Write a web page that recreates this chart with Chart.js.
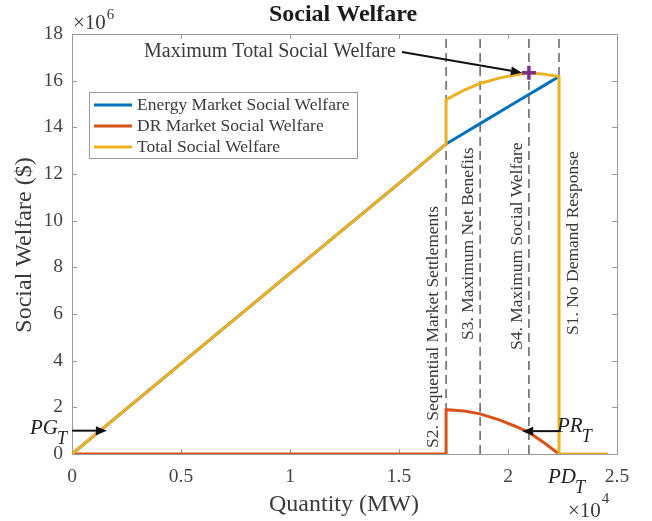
<!DOCTYPE html>
<html>
<head>
<meta charset="utf-8">
<script src="https://cdn.jsdelivr.net/npm/chart.js@4.4.0/dist/chart.umd.min.js"></script>
<style>
  html, body { margin: 0; padding: 0; background: #fff; }
  canvas { display: block; }
</style>
</head>
<body>
<canvas id="chart" width="652" height="521"></canvas>
<script>
// quantity in 1e4 MW, welfare in 1e6 $
const quantity = [0, 0.5, 1.0, 1.5, 1.716, 1.716, 1.8, 1.872, 1.963, 2.03, 2.096, 2.17, 2.234, 2.234, 2.46];
const energyWelfare = [0, 3.87, 7.74, 11.6, 13.29, 13.29, 13.76, 14.16, 14.67, 15.04, 15.41, 15.82, 16.18, null, null];
const drWelfare = [0, 0, 0, 0, 0, 1.9, 1.84, 1.72, 1.45, 1.2, 0.93, 0.45, 0, null, null];
const totalWelfare = [0, 3.87, 7.74, 11.6, 13.29, 15.19, 15.6, 15.88, 16.12, 16.24, 16.34, 16.27, 16.18, 0, 0];

const stageQuantity = [1.716, 1.872, 2.096, 2.234];
const stageLabels = ['S2. Sequential Market Settlements', 'S3. Maximum Net Benefits', 'S4. Maximum Social Welfare', 'S1. No Demand Response'];
const maxWelfarePoint = { x: 2.096, y: 16.34 };

const seriesLabels = ['Energy Market Social Welfare', 'DR Market Social Welfare', 'Total Social Welfare'];
const seriesColors = ['#0072BD', '#D95319', '#EDB120'];

const FONT = "'Liberation Serif', 'Times New Roman', serif";
const AXIS_COLOR = '#9a9a9a';
const TEXT_COLOR = '#3a3a3a';

const toPoints = (ys) => quantity.map((q, i) => ({ x: q, y: ys[i] }));

function arrow(ctx, x1, y1, x2, y2) {
  const ang = Math.atan2(y2 - y1, x2 - x1);
  const len = 11, half = 4.5;
  const bx = x2 - len * Math.cos(ang), by = y2 - len * Math.sin(ang);
  ctx.save();
  ctx.strokeStyle = '#111';
  ctx.fillStyle = '#111';
  ctx.lineWidth = 2;
  ctx.beginPath();
  ctx.moveTo(x1, y1);
  ctx.lineTo(bx, by);
  ctx.stroke();
  ctx.beginPath();
  ctx.moveTo(x2, y2);
  ctx.lineTo(bx + half * Math.sin(ang), by - half * Math.cos(ang));
  ctx.lineTo(bx - half * Math.sin(ang), by + half * Math.cos(ang));
  ctx.closePath();
  ctx.fill();
  ctx.restore();
}

function subLabel(ctx, main, sub, x, y) {
  ctx.font = 'italic 21px ' + FONT;
  ctx.textAlign = 'left';
  ctx.textBaseline = 'middle';
  ctx.fillText(main, x, y);
  const w = ctx.measureText(main).width;
  ctx.font = 'italic 18px ' + FONT;
  ctx.fillText(sub, x + w - 1, y + 11);
}

function powerLabel(ctx, x, y) {
  ctx.textAlign = 'left';
  ctx.textBaseline = 'middle';
  ctx.font = '21px ' + FONT;
  ctx.fillText('\u00d710', x, y);
  return ctx.measureText('\u00d710').width;
}

// axes box, inward ticks, labels and annotations
const decorations = {
  id: 'decorations',
  beforeDatasetsDraw(chart) {
    const { ctx, chartArea: a, scales: { x, y } } = chart;
    ctx.save();
    ctx.strokeStyle = AXIS_COLOR;
    ctx.lineWidth = 1;
    ctx.strokeRect(a.left + 0.5, a.top + 0.5, a.right - a.left, a.bottom - a.top);
    ctx.beginPath();
    x.ticks.forEach(t => {
      const px = Math.round(x.getPixelForValue(t.value)) + 0.5;
      ctx.moveTo(px, a.bottom); ctx.lineTo(px, a.bottom - 5);
      ctx.moveTo(px, a.top); ctx.lineTo(px, a.top + 5);
    });
    y.ticks.forEach(t => {
      const py = Math.round(y.getPixelForValue(t.value)) + 0.5;
      ctx.moveTo(a.left, py); ctx.lineTo(a.left + 5, py);
      ctx.moveTo(a.right, py); ctx.lineTo(a.right - 5, py);
    });
    ctx.stroke();
    ctx.restore();
  },
  afterDatasetsDraw(chart) {
    const { ctx, chartArea: a, scales: { x, y } } = chart;
    ctx.save();

    // title and axis titles
    ctx.fillStyle = '#1a1a1a';
    ctx.font = 'bold 24px ' + FONT;
    ctx.textAlign = 'center';
    ctx.textBaseline = 'middle';
    ctx.fillText('Social Welfare', 343, 15);

    ctx.fillStyle = TEXT_COLOR;
    ctx.font = '24px ' + FONT;
    ctx.fillText('Quantity (MW)', 344, 505);
    ctx.save();
    ctx.translate(25, 245);
    ctx.rotate(-Math.PI / 2);
    ctx.fillText('Social Welfare ($)', 0, 0);
    ctx.restore();

    // exponent labels
    let w = powerLabel(ctx, 73, 23);
    ctx.font = '15px ' + FONT;
    ctx.fillText('6', 73 + w + 1, 15);
    w = powerLabel(ctx, 568, 511);
    ctx.font = '15px ' + FONT;
    ctx.fillText('4', 568 + w + 1, 499);

    // legend
    ctx.fillStyle = '#fff';
    ctx.fillRect(89, 92, 268, 66);
    ctx.strokeStyle = AXIS_COLOR;
    ctx.lineWidth = 1;
    ctx.strokeRect(89.5, 92.5, 268, 66);
    ctx.font = '17.5px ' + FONT;
    ctx.textAlign = 'left';
    ctx.textBaseline = 'middle';
    seriesLabels.forEach((label, i) => {
      const ly = 105 + i * 21;
      ctx.strokeStyle = seriesColors[i];
      ctx.lineWidth = 3;
      ctx.beginPath();
      ctx.moveTo(94, ly);
      ctx.lineTo(132, ly);
      ctx.stroke();
      ctx.fillStyle = TEXT_COLOR;
      ctx.fillText(label, 137, ly);
    });

    // stage labels, rotated, next to dashed lines
    const offsets = [-13, -12, -12, 14];
    const bottoms = [448, 340, 350, 335];
    ctx.font = '17.5px ' + FONT;
    ctx.fillStyle = TEXT_COLOR;
    stageQuantity.forEach((q, i) => {
      ctx.save();
      ctx.translate(x.getPixelForValue(q) + offsets[i], bottoms[i]);
      ctx.rotate(-Math.PI / 2);
      ctx.textAlign = 'left';
      ctx.fillText(stageLabels[i], 0, 0);
      ctx.restore();
    });

    // maximum welfare annotation
    ctx.font = '20px ' + FONT;
    ctx.textAlign = 'center';
    ctx.fillStyle = TEXT_COLOR;
    ctx.fillText('Maximum Total Social Welfare', 270, 52);
    arrow(ctx, 402, 52, x.getPixelForValue(maxWelfarePoint.x) - 7, y.getPixelForValue(maxWelfarePoint.y));

    // PG_T, PR_T, PD_T markers
    ctx.fillStyle = '#222';
    subLabel(ctx, 'PG', 'T', 30, 428);
    arrow(ctx, a.left, y.getPixelForValue(1), x.getPixelForValue(0.16), y.getPixelForValue(1));
    subLabel(ctx, 'PR', 'T', 557, 426);
    arrow(ctx, x.getPixelForValue(2.234), y.getPixelForValue(0.98), x.getPixelForValue(2.065), y.getPixelForValue(0.98));
    subLabel(ctx, 'PD', 'T', 548, 477);

    ctx.restore();
  }
};

const stageDatasets = stageQuantity.map(q => ({
  data: [{ x: q, y: 0 }, { x: q, y: 18 }],
  borderColor: '#3c3c3c',
  borderWidth: 1.2,
  borderDash: [9, 5],
  pointRadius: 0,
  order: 9
}));

new Chart(document.getElementById('chart'), {
  type: 'line',
  data: {
    datasets: [
      {
        label: seriesLabels[0],
        data: toPoints(energyWelfare),
        borderColor: seriesColors[0],
        borderWidth: 3,
        pointRadius: 0,
        order: 3
      },
      {
        label: seriesLabels[1],
        data: toPoints(drWelfare),
        borderColor: seriesColors[1],
        borderWidth: 3,
        pointRadius: 0,
        order: 2
      },
      {
        label: seriesLabels[2],
        data: toPoints(totalWelfare),
        borderColor: seriesColors[2],
        borderWidth: 3,
        pointRadius: 0,
        order: 1
      },
      {
        label: 'Maximum',
        data: [maxWelfarePoint],
        showLine: false,
        pointStyle: 'cross',
        pointRadius: 7,
        pointBorderWidth: 3.5,
        pointBorderColor: '#7E2F8E',
        order: 0
      },
      ...stageDatasets
    ]
  },
  options: {
    responsive: false,
    animation: false,
    devicePixelRatio: 1,
    layout: { padding: { top: 34, right: 35, left: 0, bottom: 0 } },
    plugins: {
      legend: { display: false },
      title: { display: false },
      tooltip: { enabled: false }
    },
    scales: {
      x: {
        type: 'linear',
        min: 0,
        max: 2.5,
        afterFit: s => { s.height = 67; },
        ticks: {
          stepSize: 0.5,
          padding: 11,
          color: '#444',
          font: { family: FONT, size: 19.5 },
          callback: v => String(Math.round(v * 100) / 100)
        },
        grid: { display: false, drawTicks: false },
        border: { display: false }
      },
      y: {
        min: 0,
        max: 18,
        afterFit: s => { s.width = 72; },
        ticks: {
          stepSize: 2,
          padding: 9,
          color: '#444',
          font: { family: FONT, size: 19.5 }
        },
        grid: { display: false, drawTicks: false },
        border: { display: false }
      }
    }
  },
  plugins: [decorations]
});
</script>
</body>
</html>
